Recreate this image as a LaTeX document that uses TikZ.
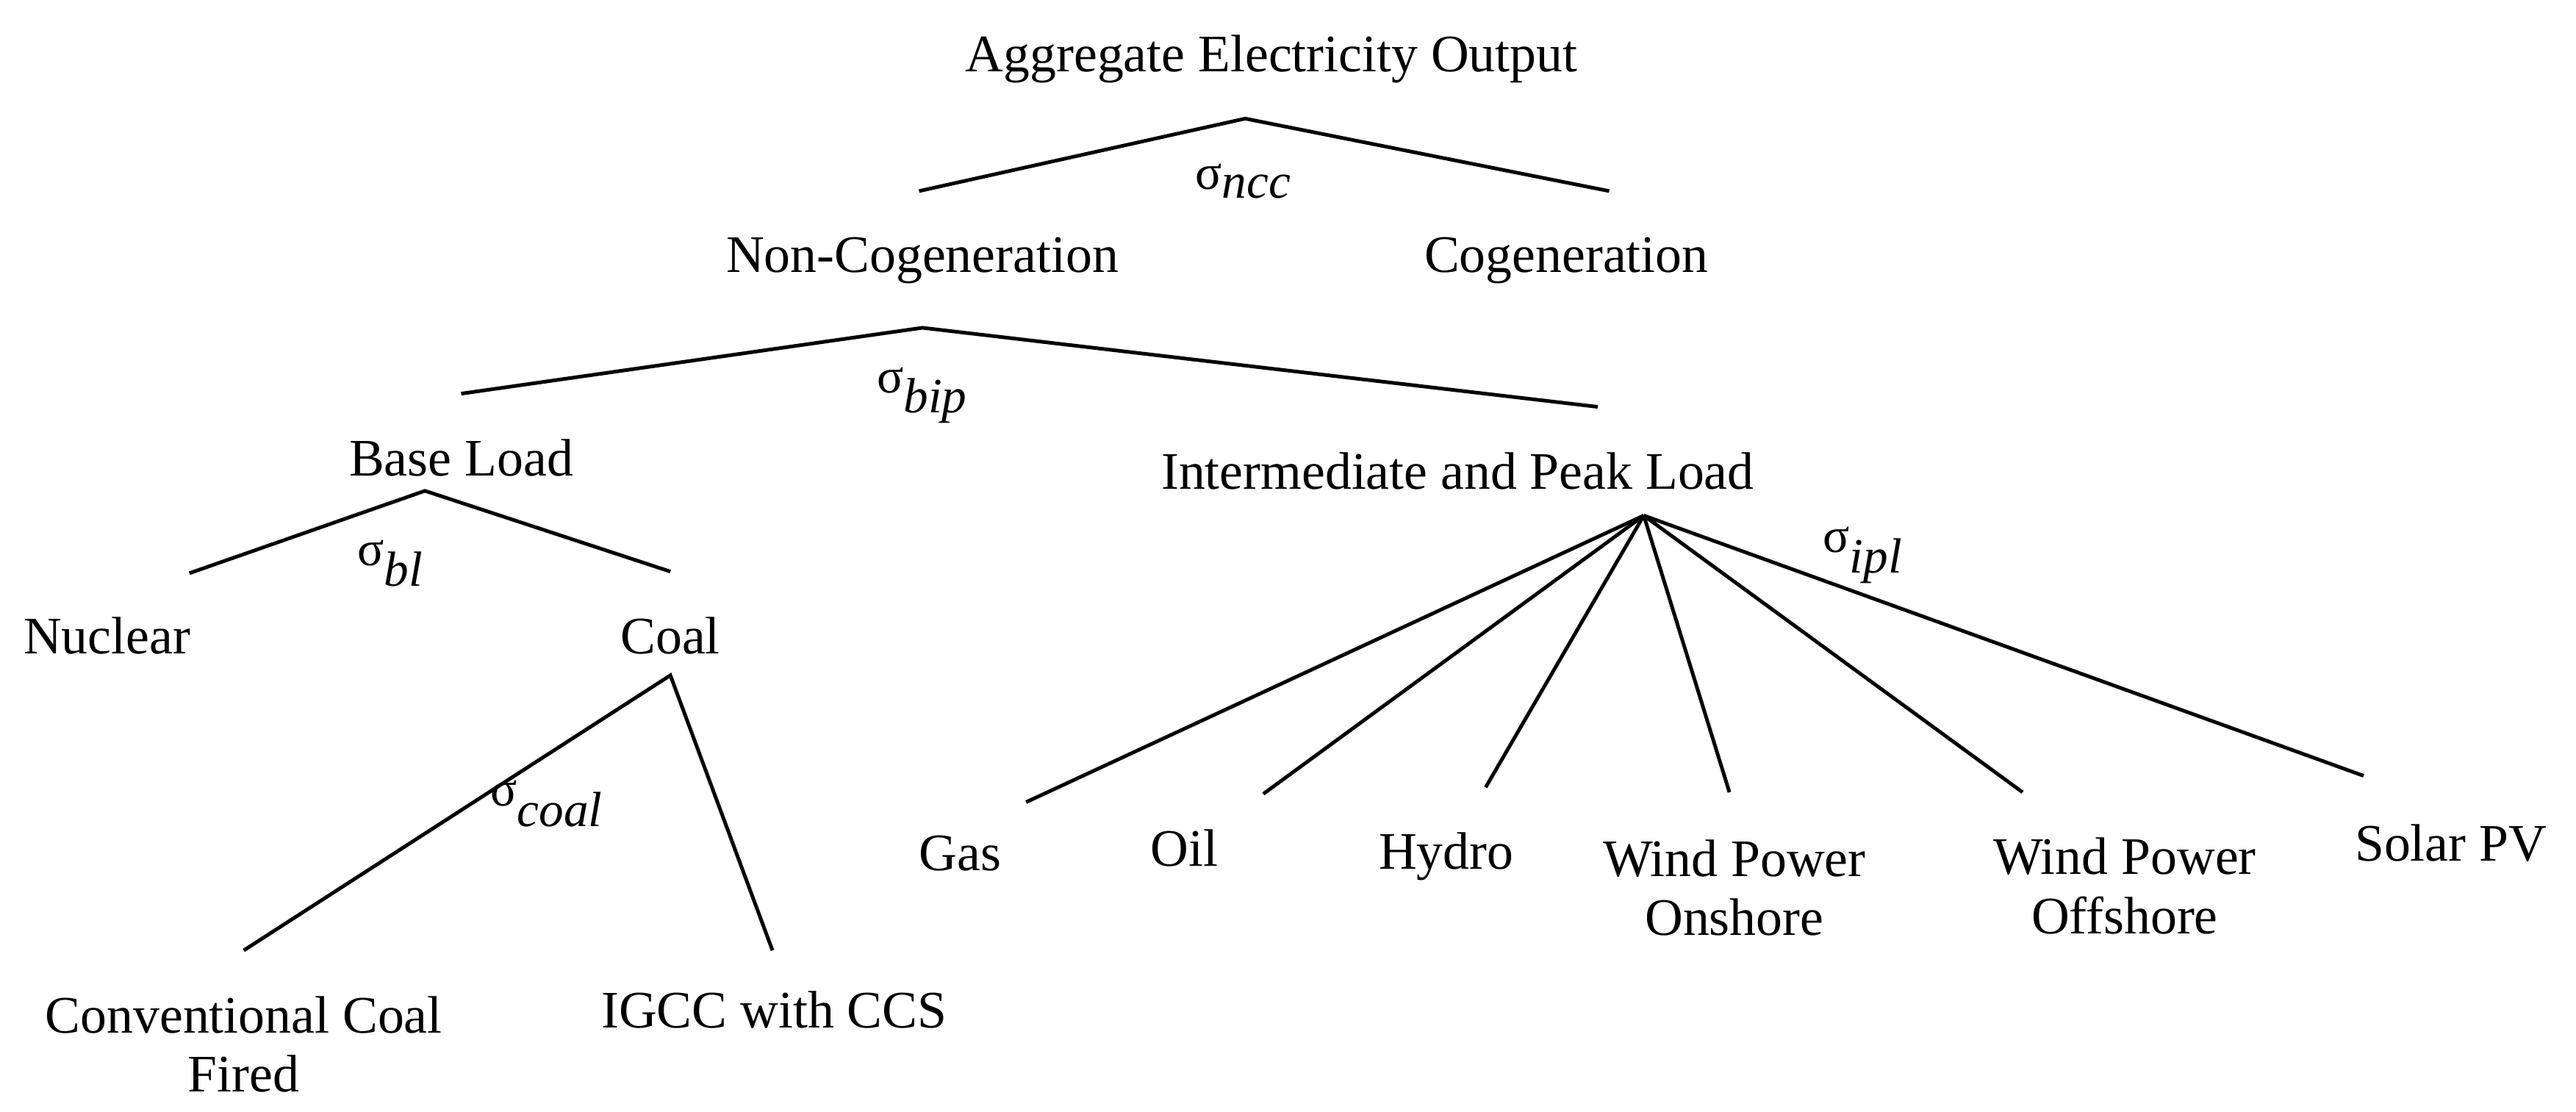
\documentclass[tikz,border=0pt]{standalone}
\usepackage{fontspec}
\setmainfont{Liberation Serif}
\begin{document}
\begin{tikzpicture}[x=1pt,y=-1pt,
  lab/.style={font=\fontsize{32}{36}\selectfont,inner sep=0pt,align=center},
  sig/.style={font=\fontsize{30}{32}\selectfont,inner sep=0pt},
  ln/.style={line width=2.2pt}]
\useasboundingbox (0,0) rectangle (1564,675);
\node[lab] (agg) at (772,36) {Aggregate Electricity Output};
\coordinate (a0) at (756,72);
\coordinate (a1) at (558,116);
\coordinate (a2) at (977,116);
\draw[ln] (a1) -- (a0) -- (a2);
\node[sig] (s1) at (755,110) {σ$_{\textit{ncc}}$};
\node[lab] (ncg) at (560,158) {Non-Cogeneration};
\node[lab] (cg) at (951,158) {Cogeneration};
\coordinate (b0) at (560,199);
\coordinate (b1) at (280,239);
\coordinate (b2) at (970,247);
\draw[ln] (b1) -- (b0) -- (b2);
\node[sig] (s2) at (560,240) {σ$_{\textit{bip}}$};
\node[lab] (bl) at (280,278) {Base Load};
\node[lab] (ipl) at (885,286) {Intermediate and Peak Load};
\coordinate (c0) at (258,298);
\coordinate (c1) at (115,348);
\coordinate (c2) at (407,347);
\draw[ln] (c1) -- (c0) -- (c2);
\node[sig] (s3) at (237,342) {σ$_{\textit{bl}}$};
\node[lab] (nuc) at (65,386) {Nuclear};
\node[lab] (coal) at (407,386) {Coal};
\coordinate (d0) at (407,410);
\coordinate (d1) at (148,577);
\coordinate (d2) at (469,577);
\draw[ln] (d1) -- (d0) -- (d2);
\node[sig] (s4) at (332,488) {σ$_{\textit{coal}}$};
\node[lab] (conv) at (148,634) {Conventional Coal\\Fired};
\node[lab] (igcc) at (470,613) {IGCC with CCS};
\coordinate (e0) at (998,313);
\foreach \n/\x/\y in {e1/623/487,e2/767/482,e3/902/478,e4/1050/481,e5/1228/481,e6/1435/471}{
  \coordinate (\n) at (\x,\y);
  \draw[ln] (e0) -- (\n);
}
\node[sig] (s5) at (1131,337) {σ$_{\textit{ipl}}$};
\node[lab] (gas) at (583,518) {Gas};
\node[lab] (oil) at (719,515) {Oil};
\node[lab] (hyd) at (878,520) {Hydro};
\node[lab] (won) at (1053,539) {Wind Power\\Onshore};
\node[lab] (wof) at (1290,538) {Wind Power\\Offshore};
\node[lab] (sol) at (1488,512) {Solar PV};
\end{tikzpicture}
\end{document}
